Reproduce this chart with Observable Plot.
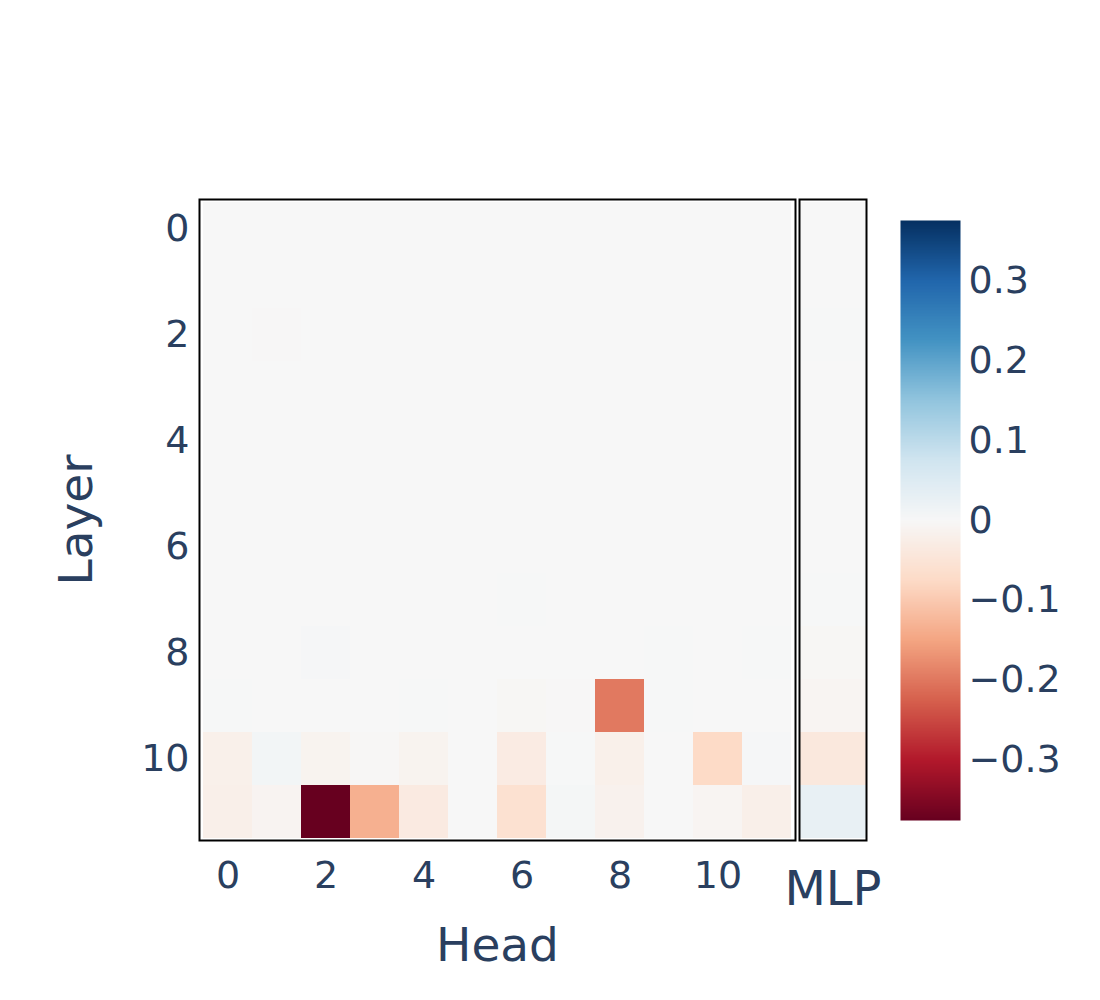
<!DOCTYPE html>
<html>
<head>
<meta charset="utf-8">
<script src="https://cdn.jsdelivr.net/npm/d3@7"></script>
<script src="https://cdn.jsdelivr.net/npm/@observablehq/plot@0.6"></script>
<style>
  body { margin: 0; background: #fff; }
  #chart { position: relative; width: 1100px; height: 1000px; font-family: "DejaVu Sans", sans-serif; }
  #chart svg { position: absolute; left: 0; top: 0; overflow: visible; }
</style>
</head>
<body>
<div id="chart"></div>
<script>
// ---- data ----
const layers = [0, 1, 2, 3, 4, 5, 6, 7, 8, 9, 10, 11];
const heads = [0, 1, 2, 3, 4, 5, 6, 7, 8, 9, 10, 11];
// attention-head values, one array per layer (index = head)
const layer0  = [0, 0, 0, 0, 0, 0, 0, 0, 0, 0, 0, 0];
const layer1  = [0, 0, 0, 0, 0, 0, 0, 0, 0, 0, 0, 0];
const layer2  = [0, -0.002, 0, 0, 0, 0, 0, 0, 0, 0, 0, 0];
const layer3  = [0, 0, 0, 0, 0, 0, 0, 0, 0, 0, 0, 0];
const layer4  = [0, 0, 0, 0, 0, 0, 0, 0, 0, 0, 0, 0];
const layer5  = [0, 0, 0, 0, 0, 0, 0, 0, 0, 0, 0, 0];
const layer6  = [0, 0, 0, 0, 0, 0, 0, 0, 0, 0, 0, 0];
const layer7  = [0, 0, 0, 0, 0, 0, 0.002, 0, 0, 0, 0, 0];
const layer8  = [0, 0, 0.003, 0, 0, 0, 0, 0, 0, 0.002, 0, 0.002];
const layer9  = [0.002, 0, 0, 0, 0.002, 0, -0.004, -0.002, -0.198, 0.002, 0, 0];
const layer10 = [-0.02, 0.01, -0.012, -0.003, -0.012, 0, -0.032, 0.001, -0.02, 0, -0.075, 0.004];
const layer11 = [-0.022, -0.01, -0.376, -0.135, -0.035, 0, -0.06, 0.006, -0.015, 0, -0.008, -0.022];
const headValues = [layer0, layer1, layer2, layer3, layer4, layer5, layer6, layer7, layer8, layer9, layer10, layer11];
// MLP values (index = layer)
const mlpValues = [0, 0, 0.001, 0, 0, 0, 0, 0.002, -0.004, -0.008, -0.04, 0.03];
const colorDomain = [-0.376, 0.376];
const colorTicks = [-0.3, -0.2, -0.1, 0, 0.1, 0.2, 0.3];
const xTicks = [0, 2, 4, 6, 8, 10];
const yTicks = [0, 2, 4, 6, 8, 10];

// colorbrewer RdBu, linearly interpolated (as in the reference)
const rdbu = ["rgb(103,0,31)", "rgb(178,24,43)", "rgb(214,96,77)", "rgb(244,165,130)", "rgb(253,219,199)",
  "rgb(247,247,247)", "rgb(209,229,240)", "rgb(146,197,222)", "rgb(67,147,195)", "rgb(33,102,172)", "rgb(5,48,97)"];
const stops = rdbu.map((c, i) => colorDomain[0] + i * (colorDomain[1] - colorDomain[0]) / (rdbu.length - 1));

const headCells = layers.flatMap(l => heads.map(h => ({layer: l, head: h, value: headValues[l][h]})));
const mlpCells = layers.map(l => ({layer: l, comp: "MLP", value: mlpValues[l]}));

const textColor = "#2a3f5f";
const tickSize = 38;
const titleSize = 47;
const color = {type: "linear", domain: stops, range: rdbu, interpolate: "rgb", clamp: true};

const chart = document.getElementById("chart");

// main heatmap
const main = Plot.plot({
  width: 800, height: 1000,
  marginLeft: 199, marginRight: 5, marginTop: 199, marginBottom: 160,
  style: {fontFamily: "DejaVu Sans", color: textColor, background: "transparent", overflow: "visible"},
  x: {domain: heads, padding: 0},
  y: {domain: layers, padding: 0},
  color,
  marks: [
    Plot.cell(headCells, {x: "head", y: "layer", fill: "value"}),
    Plot.frame({stroke: "black", strokeWidth: 2}),
    Plot.axisX({ticks: xTicks, tickSize: 0, tickPadding: 21, fontSize: tickSize, fill: textColor, label: null}),
    Plot.axisX({ticks: [], label: "Head", labelAnchor: "center", labelArrow: "none", labelOffset: 120, fontSize: titleSize, fill: textColor}),
    Plot.axisY({ticks: yTicks, tickSize: 0, tickPadding: 10, fontSize: tickSize, fill: textColor, label: null}),
    Plot.axisY({ticks: [], label: "Layer", labelAnchor: "center", labelArrow: "none", labelOffset: 141, fontSize: titleSize, fill: textColor})
  ]
});
chart.appendChild(main);

// MLP column
const mlp = Plot.plot({
  width: 1100, height: 1000,
  marginLeft: 799, marginRight: 234, marginTop: 199, marginBottom: 160,
  style: {fontFamily: "DejaVu Sans", color: textColor, background: "transparent", overflow: "visible"},
  x: {domain: ["MLP"], padding: 0},
  y: {domain: layers, padding: 0, axis: null},
  color,
  marks: [
    Plot.cell(mlpCells, {x: "comp", y: "layer", fill: "value"}),
    Plot.frame({stroke: "black", strokeWidth: 2}),
    Plot.axisX({tickSize: 0, tickPadding: 30, fontSize: 48, fill: textColor, label: null})
  ]
});
chart.appendChild(mlp);

// colour bar
const bar = Plot.plot({
  width: 1100, height: 1000,
  marginLeft: 900, marginRight: 140, marginTop: 220, marginBottom: 180,
  style: {fontFamily: "DejaVu Sans", color: textColor, background: "transparent", overflow: "visible"},
  x: {domain: [0, 1], axis: null},
  y: {domain: colorDomain},
  color,
  marks: [
    Plot.raster({x1: 0, x2: 1, y1: colorDomain[0], y2: colorDomain[1], width: 1, height: 400, fill: (x, y) => y, imageRendering: "auto"}),
    Plot.axisY({anchor: "right", ticks: colorTicks, tickSize: 0, tickPadding: 8, fontSize: tickSize, fill: textColor, label: null,
      tickFormat: d => d === 0 ? "0" : d3.format(".1f")(d)})
  ]
});
chart.appendChild(bar);
</script>
</body>
</html>
